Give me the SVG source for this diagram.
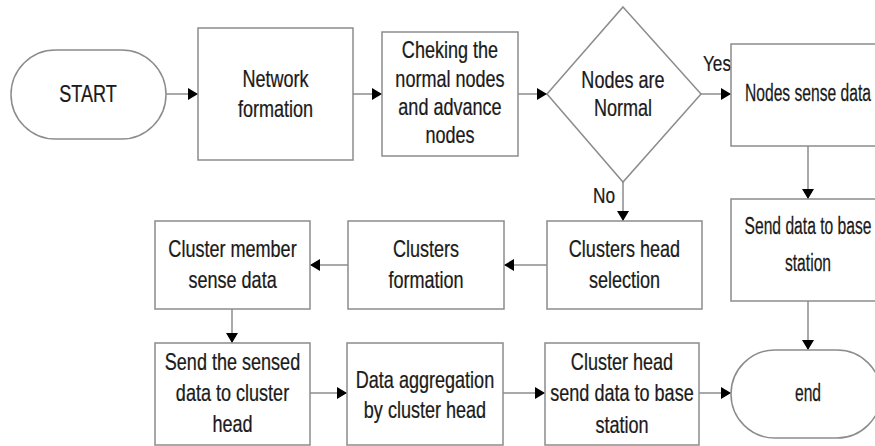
<svg xmlns="http://www.w3.org/2000/svg" width="875" height="446" viewBox="0 0 875 446">
<style>
.shape{fill:#fff;stroke:#8c8c8c;stroke-width:1.5}
.conn{stroke:#8c8c8c;stroke-width:1.5;fill:none}
text{font-family:"Liberation Sans",Arial,sans-serif;font-size:23px;fill:#1a1a1a;stroke:#1a1a1a;stroke-width:0.25;text-anchor:middle;transform-box:fill-box;transform-origin:center;transform:scaleX(0.785)}
text.r{transform:scaleX(0.68)}
text.lbl{font-size:22px}
</style>
<defs>
<marker id="ah" markerUnits="userSpaceOnUse" markerWidth="11" markerHeight="13" refX="10" refY="6" orient="auto">
<path d="M0,0 L10,6 L0,12 z" fill="#000"/>
</marker>
</defs>
<rect width="875" height="446" fill="#fff"/>
<g id="connectors">
<line class="conn" x1="166" y1="94" x2="198" y2="94" marker-end="url(#ah)"/>
<line class="conn" x1="353" y1="94" x2="382" y2="94" marker-end="url(#ah)"/>
<line class="conn" x1="518" y1="94" x2="547" y2="94" marker-end="url(#ah)"/>
<line class="conn" x1="701" y1="94" x2="731" y2="94" marker-end="url(#ah)"/>
<line class="conn" x1="808" y1="146" x2="808" y2="199" marker-end="url(#ah)"/>
<line class="conn" x1="808" y1="301" x2="808" y2="350" marker-end="url(#ah)"/>
<line class="conn" x1="623" y1="182" x2="623" y2="221" marker-end="url(#ah)"/>
<line class="conn" x1="547" y1="265" x2="504" y2="265" marker-end="url(#ah)"/>
<line class="conn" x1="348" y1="265" x2="310" y2="265" marker-end="url(#ah)"/>
<line class="conn" x1="232" y1="309" x2="232" y2="343" marker-end="url(#ah)"/>
<line class="conn" x1="310" y1="393" x2="347" y2="393" marker-end="url(#ah)"/>
<line class="conn" x1="503" y1="393" x2="545" y2="393" marker-end="url(#ah)"/>
<line class="conn" x1="699" y1="393" x2="731" y2="393" marker-end="url(#ah)"/>
<text class="lbl" x="717" y="71">Yes</text>
<text class="lbl" x="604" y="203">No</text>
</g>
<g id="start">
<rect class="shape" x="11" y="50" width="155" height="89" rx="44.5" ry="44.5"/>
<text x="88" y="102">START</text>
</g>
<g id="network-formation">
<rect class="shape" x="198" y="28" width="155" height="132"/>
<text x="275.5" y="87">Network</text>
<text x="275.5" y="117">formation</text>
</g>
<g id="checking">
<rect class="shape" x="382" y="32" width="136" height="124"/>
<text x="450" y="58">Cheking the</text>
<text x="450" y="87">normal nodes</text>
<text x="450" y="115">and advance</text>
<text x="450" y="143">nodes</text>
</g>
<g id="decision">
<polygon class="shape" points="623,7 701,94 623,182 547,94"/>
<text x="623" y="88">Nodes are</text>
<text x="623" y="116">Normal</text>
</g>
<g id="nodes-sense-data">
<rect class="shape" x="731" y="44" width="154" height="102"/>
<text class="r" x="808" y="101">Nodes sense data</text>
</g>
<g id="send-data-base">
<rect class="shape" x="731" y="199" width="154" height="102"/>
<text class="r" x="808" y="234">Send data to base</text>
<text class="r" x="808" y="271">station</text>
</g>
<g id="end">
<rect class="shape" x="731" y="350" width="150" height="88" rx="44" ry="44"/>
<text class="r" x="808" y="401">end</text>
</g>
<g id="clusters-head-selection">
<rect class="shape" x="547" y="221" width="155" height="88"/>
<text x="624.5" y="257">Clusters head</text>
<text x="624.5" y="288">selection</text>
</g>
<g id="clusters-formation">
<rect class="shape" x="348" y="221" width="156" height="88"/>
<text x="426" y="257">Clusters</text>
<text x="426" y="288">formation</text>
</g>
<g id="cluster-member-sense">
<rect class="shape" x="155" y="221" width="155" height="88"/>
<text x="232.5" y="257">Cluster member</text>
<text x="232.5" y="288">sense data</text>
</g>
<g id="send-sensed">
<rect class="shape" x="155" y="343" width="155" height="102"/>
<text x="232.5" y="370">Send the sensed</text>
<text x="232.5" y="401">data to cluster</text>
<text x="232.5" y="432">head</text>
</g>
<g id="data-aggregation">
<rect class="shape" x="347" y="343" width="156" height="102"/>
<text x="425" y="388">Data aggregation</text>
<text x="425" y="418">by cluster head</text>
</g>
<g id="cluster-head-send">
<rect class="shape" x="545" y="343" width="154" height="102"/>
<text x="622" y="370">Cluster head</text>
<text x="622" y="401">send data to base</text>
<text x="622" y="433">station</text>
</g>
</svg>
